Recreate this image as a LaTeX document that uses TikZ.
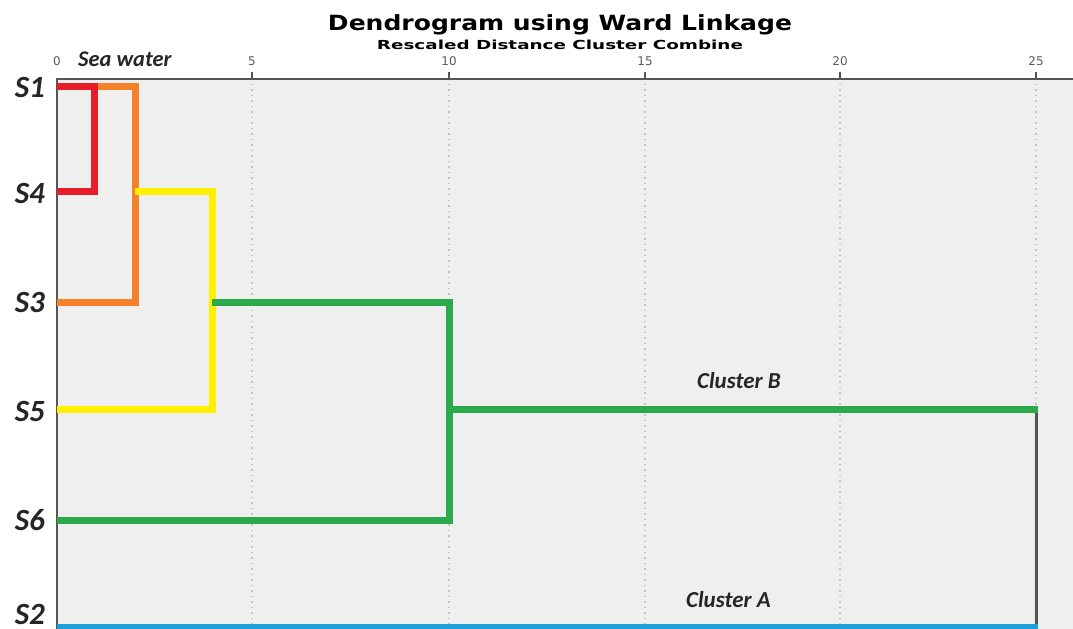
\documentclass[tikz,border=0pt]{standalone}
\usepackage{fontspec}
\usepackage{graphicx}
\newfontfamily\labfont{Carlito}
\newfontfamily\titlefont{DejaVu Sans}
\definecolor{plotbg}{HTML}{EFEFEF}
\definecolor{axisgray}{HTML}{555555}
\definecolor{dred}{HTML}{E51E2A}
\definecolor{dorange}{HTML}{F5822A}
\definecolor{dyellow}{HTML}{FFEF00}
\definecolor{dgreen}{HTML}{2AAA4A}
\definecolor{dblue}{HTML}{1C9FDB}
\definecolor{tickgray}{HTML}{5A5A5A}
\definecolor{gridgray}{HTML}{C4C4C4}
\tikzset{
  branch/.style={line width=7bp, line join=miter, line cap=butt},
  leaflabel/.style={anchor=base east, inner sep=0pt, text depth=0pt, font=\labfont\bfseries\itshape\fontsize{31}{31}\selectfont, text=black!85},
  clabel/.style={anchor=base west, inner sep=0pt, font=\labfont\bfseries\itshape\fontsize{23}{23}\selectfont, text=black!85},
  ticklabel/.style={anchor=base, inner sep=0pt, font=\titlefont\fontsize{12}{12}\selectfont, text=tickgray},
  axisline/.style={line width=2.5bp, draw=axisgray},
  gridline/.style={line width=1.2bp, draw=gridgray, dash pattern=on 1.5bp off 4bp},
}
\begin{document}
\begin{tikzpicture}[x=1bp,y=-1bp]
\useasboundingbox (0,0) rectangle (1073,629);
\fill[white] (0,0) rectangle (1073,629);
\fill[plotbg] (57,79) rectangle (1073,629);
% grid
\foreach \gx in {252,449,645,840,1036} {
  \draw[gridline] (\gx,84) -- (\gx,629);
  \draw[line width=1.8bp, draw=axisgray] (\gx,72) -- (\gx,79);
}
% axes
\draw[axisline] (57,79) -- (1073,79);
\draw[axisline] (57,78) -- (57,629);
% titles
\node[anchor=base, inner sep=0pt] (title) at (560,31) {\resizebox{464bp}{\height}{\titlefont\bfseries\fontsize{21}{21}\selectfont Dendrogram using Ward Linkage}};
\node[anchor=base, inner sep=0pt] (subtitle) at (560,50) {\resizebox{366bp}{\height}{\titlefont\bfseries\fontsize{12.5}{12.5}\selectfont Rescaled Distance Cluster Combine}};
% tick labels
\node[ticklabel] (t0) at (57,66) {0};
\node[ticklabel] (t5) at (252,66) {5};
\node[ticklabel] (t10) at (449,66) {10};
\node[ticklabel] (t15) at (645,66) {15};
\node[ticklabel] (t20) at (840,66) {20};
\node[ticklabel] (t25) at (1036,66) {25};
\node[clabel, font=\labfont\bfseries\itshape\fontsize{22.5}{22.5}\selectfont] (sea) at (78,67) {Sea water};
% leaf labels
\node[leaflabel] (S1) at (45,98) {S1};
\node[leaflabel] (S4) at (45,204) {S4};
\node[leaflabel] (S3) at (45,313) {S3};
\node[leaflabel] (S5) at (45,421) {S5};
\node[leaflabel] (S6) at (45,530) {S6};
\node[leaflabel] (S2) at (45,624) {S2};
% leaf points
\coordinate (l1) at (57,87);
\coordinate (l4) at (57,192);
\coordinate (l3) at (57,302);
\coordinate (l5) at (57,409);
\coordinate (l6) at (57,520);
\coordinate (l2) at (57,627);
% merge corners
\coordinate (r1) at (94,87);
\coordinate (r2) at (94,192);
\coordinate (o1) at (135,87);
\coordinate (o2) at (135,302);
\coordinate (o3) at (135,192);
\coordinate (y1) at (212,192);
\coordinate (y2) at (212,409);
\coordinate (y3) at (212,302);
\coordinate (g1) at (449,302);
\coordinate (g2) at (449,520);
\coordinate (g3) at (449,409);
\coordinate (root1) at (1036,409);
\coordinate (root2) at (1036,627);
% dendrogram
\draw[branch, draw=dorange] (r1) -- (o1) -- (o2) -- (l3);
\draw[branch, draw=dred] (l1) -- (r1) -- (r2) -- (l4);
\draw[branch, draw=dyellow] (o3) -- (y1) -- (y2) -- (l5);
\draw[branch, draw=dgreen] (y3) -- (g1) -- (g2) -- (l6);
\draw[line width=3bp, draw=axisgray] (root1) -- (root2);
\draw[branch, draw=dgreen] (g3) -- ([xshift=1.5bp]root1);
\draw[branch, draw=dblue] (l2) -- ([xshift=1.5bp]root2);
% cluster labels
\node[clabel] (cb) at (697,388) {Cluster B};
\node[clabel] (ca) at (686,607) {Cluster A};
\end{tikzpicture}
\end{document}
